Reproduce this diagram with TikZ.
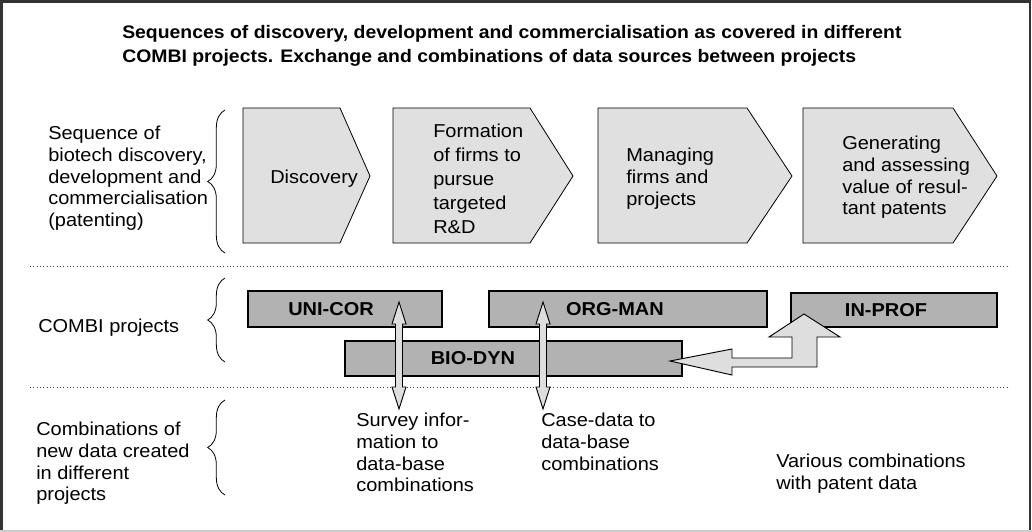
\documentclass[tikz,border=0pt]{standalone}
\usepackage{fontspec}
\setmainfont{Liberation Sans}[FakeStretch=1.07]
\usetikzlibrary{decorations.pathreplacing}
\definecolor{chevfill}{HTML}{E0E0E0}
\definecolor{boxfill}{HTML}{B2B2B2}
\definecolor{arrfill}{HTML}{DEDEDE}
\begin{document}
\begin{tikzpicture}[x=0.75pt,y=-0.75pt,
  lab/.style={font=\fontsize{14}{16.3}\selectfont, align=left, anchor=north west, inner sep=0},
  chevtext/.style={lab},
  chev/.style={draw=black, fill=chevfill, line width=0.6pt},
  projbox/.style={draw=black, fill=boxfill, line width=0.9pt, inner sep=0},
  projlabel/.style={font=\bfseries\fontsize{14}{16}\selectfont, inner sep=0},
  blockarrow/.style={draw=black, fill=arrfill, line width=0.7pt, line join=miter},
  sep/.style={dotted, draw=black!75, line width=0.5pt},
  grp/.style={decorate, decoration={brace, amplitude=13pt}, line width=0.6pt},
  updown/.pic={
    \path[blockarrow] (0,0) -- (7,22) -- (3.5,22) -- (3.5,85) -- (7,85) -- (0,107)
      -- (-7,85) -- (-3.5,85) -- (-3.5,22) -- (-7,22) -- cycle;
  },
]
\useasboundingbox (0,0) rectangle (1032,532);
\fill[white] (0,0) rectangle (1032,532);
% outer frame
\draw[line width=2pt, black!80] (1.5,532) -- (1.5,1.5) -- (1030,1.5) -- (1030,532);
\draw[line width=1.5pt, black!20] (0,531) -- (1032,531);

% heading
\node[font=\bfseries\fontsize{13.6}{18}\selectfont, align=left, anchor=north west, inner sep=0]
  (title) at (122,25) {Sequences of discovery, development and commercialisation as covered in different\\
  COMBI projects. Exchange and combinations of data sources between projects};

% row labels
\node[lab] (rowseq) at (48,126) {Sequence of\\biotech discovery,\\development and\\commercialisation\\(patenting)};
\node[lab] (rowcombi) at (38,319) {COMBI projects};
\node[lab] (rowdata) at (36,422) {Combinations of\\new data created\\in different\\projects};

% braces
\draw[grp] (225,253) -- (225,110);
\draw[grp] (225,362) -- (225,278);
\draw[grp] (225,495) -- (225,400);

% separators
\draw[sep] (30,266) -- (1010,266);
\draw[sep] (30,387) -- (1010,387);

% sequence of stages
\path[chev] (243,108) -- (340,108) -- (370,176) -- (340,243) -- (243,243) -- cycle;
\path[chev] (393,108) -- (530,108) -- (573,176) -- (530,243) -- (393,243) -- cycle;
\path[chev] (598,108) -- (747,108) -- (792,176) -- (747,243) -- (598,243) -- cycle;
\path[chev] (803,108) -- (953,108) -- (997,176) -- (953,243) -- (803,243) -- cycle;
\node[chevtext, anchor=base west] (disc) at (270,183) {Discovery};
\node[chevtext, font=\fontsize{14}{18}\selectfont] (form) at (433,123.5) {Formation\\of firms to\\pursue\\targeted\\R\&D};
\node[chevtext] (manage) at (626,148) {Managing\\firms and\\projects};
\node[chevtext] (gen) at (842,136) {Generating\\and assessing\\value of resul-\\tant patents};

% projects
\node[projbox, minimum width=145.5pt, minimum height=27pt] (unicor) at (345,309) {};
\node[projbox, minimum width=208.5pt, minimum height=27pt] (orgman) at (628,309) {};
\node[projbox, minimum width=252.75pt, minimum height=26.25pt] (biodyn) at (513.5,358.5) {};
\node[projbox, minimum width=154.5pt, minimum height=25.5pt] (inprof) at (894,310) {};
\node[projlabel] at ([xshift=-10.5pt]unicor.center) {UNI-COR};
\node[projlabel] at ([xshift=-9.75pt]orgman.center) {ORG-MAN};
\node[projlabel] at ([xshift=-30.4pt]biodyn.center) {BIO-DYN};
\node[projlabel] at ([xshift=-6pt]inprof.center) {IN-PROF};

% data exchange between BIO-DYN and IN-PROF
\coordinate (bdend) at (670,361);
\coordinate (ipend) at (804,314);
\path[blockarrow] (bdend) -- (732,349) -- (732,358) -- (792,358) -- (792,337) -- (769,337)
  -- (ipend) -- (840,337) -- (817,337) -- (817,367) -- (732,367) -- (732,375) -- cycle;

% data outcomes
\node[lab] (survey) at (356,413) {Survey infor-\\mation to\\data-base\\combinations};
\node[lab] (casedata) at (541,413) {Case-data to\\data-base\\combinations};
\node[lab] (various) at (776,454) {Various combinations\\with patent data};

% links from projects down to data outcomes
\pic at (399,302) {updown};
\pic at (543,302) {updown};
\end{tikzpicture}
\end{document}
